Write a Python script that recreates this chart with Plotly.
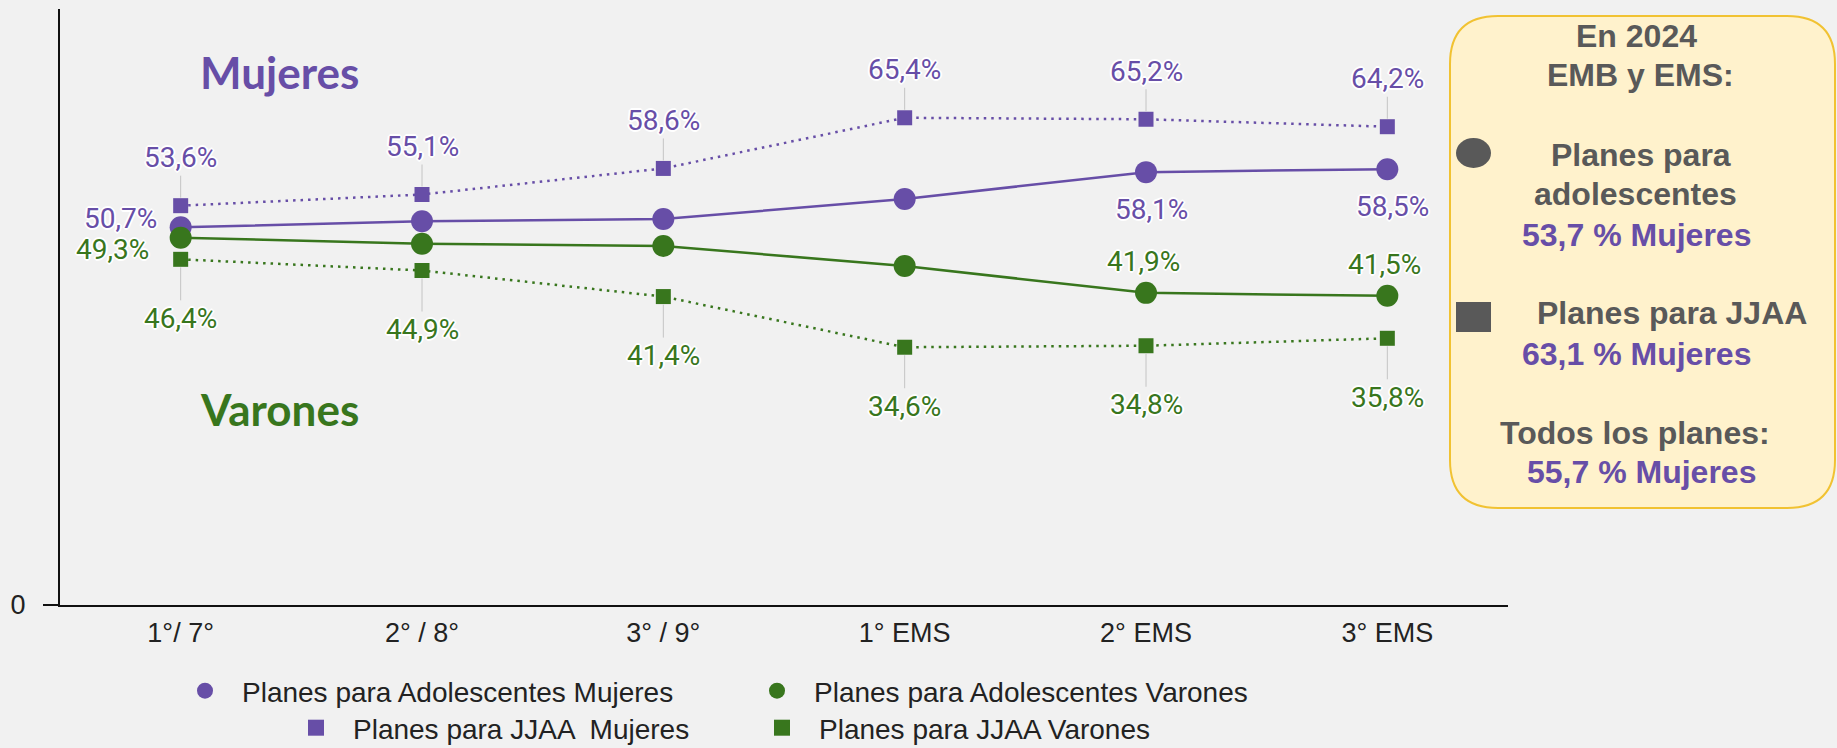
import plotly.graph_objects as go

# Data
categories = ["1°/ 7°", "2° / 8°", "3° / 9°", "1° EMS", "2° EMS", "3° EMS"]
adol_mujeres = [50.7, 51.5, 51.8, 54.5, 58.1, 58.5]
adol_varones = [49.3, 48.5, 48.2, 45.5, 41.9, 41.5]
jjaa_mujeres = [53.6, 55.1, 58.6, 65.4, 65.2, 64.2]
jjaa_varones = [46.4, 44.9, 41.4, 34.6, 34.8, 35.8]

# which circle points carry a label
adol_mujeres_labeled = [0, 4, 5]
adol_varones_labeled = [0, 4, 5]

box_lines = [
    ("En 2024", "grey"),
    ("EMB y EMS:", "grey"),
    ("Planes para", "grey"),
    ("adolescentes", "grey"),
    ("53,7 % Mujeres", "purple"),
    ("Planes para JJAA", "grey"),
    ("63,1 % Mujeres", "purple"),
    ("Todos los planes:", "grey"),
    ("55,7 % Mujeres", "purple"),
]

PURPLE = "#674ea7"
GREEN = "#38761d"
GREY = "#595959"
BG = "#f1f1f1"
HALO = "white 2px 0 0, white -2px 0 0, white 0 2px 0, white 0 -2px 0, white 1px 1px 1px, white -1px -1px 1px, white 1px -1px 1px, white -1px 1px 1px"

W, H = 1837, 748
L, R, T, B = 60, 329, 9, 143
PW, PH = W - L - R, H - T - B


def px(x):
    return (x - L) / PW


def py(y):
    return (H - B - y) / PH


def fmt(v):
    return f"{v:.1f}".replace(".", ",") + "%"


fig = go.Figure()

# JJAA dotted lines
fig.add_trace(go.Scatter(
    x=categories, y=jjaa_mujeres, mode="lines+markers",
    line=dict(color=PURPLE, width=2.5, dash="2.5px,5px"),
    marker=dict(symbol="square", size=15, color=PURPLE),
    showlegend=False, hoverinfo="skip",
))
fig.add_trace(go.Scatter(
    x=categories, y=jjaa_varones, mode="lines+markers",
    line=dict(color=GREEN, width=2.5, dash="2.5px,5px"),
    marker=dict(symbol="square", size=15, color=GREEN),
    showlegend=False, hoverinfo="skip",
))
# Adolescentes solid lines
fig.add_trace(go.Scatter(
    x=categories, y=adol_mujeres, mode="lines+markers",
    line=dict(color=PURPLE, width=2.5),
    marker=dict(symbol="circle", size=22, color=PURPLE),
    showlegend=False, hoverinfo="skip",
))
fig.add_trace(go.Scatter(
    x=categories, y=adol_varones, mode="lines+markers",
    line=dict(color=GREEN, width=2.5),
    marker=dict(symbol="circle", size=22, color=GREEN),
    showlegend=False, hoverinfo="skip",
))

# Legend entries (two centred rows -> two legends)
legend_items = [
    ("Planes para Adolescentes Mujeres", "circle", PURPLE, "legend"),
    ("Planes para Adolescentes Varones", "circle", GREEN, "legend"),
    ("Planes para JJAA  Mujeres", "square", PURPLE, "legend2"),
    ("Planes para JJAA Varones", "square", GREEN, "legend2"),
]
for name, sym, col, lg in legend_items:
    fig.add_trace(go.Scatter(
        x=[None], y=[None], mode="markers", name=name, legend=lg,
        marker=dict(symbol=sym, size=30, color=col),
    ))

annotations = []
label_font = dict(family="Roboto", size=28)

# square labels with leader lines
for i, v in enumerate(jjaa_mujeres):
    annotations.append(dict(
        x=categories[i], y=v, text=fmt(v), showarrow=True, arrowhead=0,
        arrowwidth=1, arrowcolor="#c4c4c4", ax=0, ay=-48, standoff=8,
        font=dict(**label_font, color=PURPLE, shadow=HALO),
    ))
for i, v in enumerate(jjaa_varones):
    annotations.append(dict(
        x=categories[i], y=v, text=fmt(v), showarrow=True, arrowhead=0,
        arrowwidth=1, arrowcolor="#c4c4c4", ax=0, ay=59, standoff=8,
        font=dict(**label_font, color=GREEN, shadow=HALO),
    ))

# circle labels
for i in adol_mujeres_labeled:
    v = adol_mujeres[i]
    if i == 0:
        pos = dict(xanchor="right", xshift=-22, yshift=9)
    else:
        pos = dict(xanchor="center", xshift=5, yshift=-37)
    annotations.append(dict(
        x=categories[i], y=v, text=fmt(v), showarrow=False,
        font=dict(**label_font, color=PURPLE, shadow=HALO), **pos,
    ))
for i in adol_varones_labeled:
    v = adol_varones[i]
    if i == 0:
        pos = dict(xanchor="right", xshift=-30, yshift=-12)
    else:
        pos = dict(xanchor="center", xshift=-3, yshift=31)
    annotations.append(dict(
        x=categories[i], y=v, text=fmt(v), showarrow=False,
        font=dict(**label_font, color=GREEN, shadow=HALO), **pos,
    ))

# big group titles
annotations.append(dict(
    xref="paper", yref="paper", x=px(279), y=py(72), text="<b>Mujeres</b>",
    xanchor="center", yanchor="middle",
    showarrow=False, font=dict(family="Lato", size=44, color=PURPLE),
))
annotations.append(dict(
    xref="paper", yref="paper", x=px(279), y=py(409), text="<b>Varones</b>",
    xanchor="center", yanchor="middle",
    showarrow=False, font=dict(family="Lato", size=44, color=GREEN),
))

# summary box text
box_x = [1636, 1640, 1641, 1635, 1636, 1672, 1636, 1635, 1641]
box_y = [36, 75, 155, 194, 235, 313, 354, 433, 472]
for (txt, kind), bx, by in zip(box_lines, box_x, box_y):
    annotations.append(dict(
        xref="paper", yref="paper", x=px(bx), y=py(by), text=f"<b>{txt}</b>",
        showarrow=False, xanchor="center", yanchor="middle",
        font=dict(family="Arial, Liberation Sans", size=32,
                  color=PURPLE if kind == "purple" else GREY),
    ))

# rounded summary box
x0, x1, y0, y1, r = 1450, 1835, 16, 508, 48
rx, ry = r / PW, r / PH
X0, X1, Y0, Y1 = px(x0), px(x1), py(y0), py(y1)
box_path = (
    f"M {X0 + rx},{Y0} L {X1 - rx},{Y0} Q {X1},{Y0} {X1},{Y0 - ry} "
    f"L {X1},{Y1 + ry} Q {X1},{Y1} {X1 - rx},{Y1} "
    f"L {X0 + rx},{Y1} Q {X0},{Y1} {X0},{Y1 + ry} "
    f"L {X0},{Y0 - ry} Q {X0},{Y0} {X0 + rx},{Y0} Z"
)
shapes = [
    dict(type="path", xref="paper", yref="paper", path=box_path,
         fillcolor="#fff2cc", line=dict(color="#f1c232", width=2), layer="below"),
    dict(type="circle", xref="paper", yref="paper",
         x0=px(1456), x1=px(1491), y0=py(138), y1=py(168),
         fillcolor=GREY, line=dict(width=0)),
    dict(type="rect", xref="paper", yref="paper",
         x0=px(1456), x1=px(1491), y0=py(302), y1=py(332),
         fillcolor=GREY, line=dict(width=0)),
]

fig.update_layout(
    width=W, height=H,
    margin=dict(l=L, r=R, t=T, b=B, autoexpand=False),
    paper_bgcolor=BG, plot_bgcolor=BG,
    font=dict(family="Arial, Liberation Sans", color="#222222"),
    xaxis=dict(
        type="category", range=[-0.5, 5.5], showgrid=False, zeroline=False,
        showline=True, linecolor="#111111", linewidth=2,
        tickfont=dict(size=27, color="#222222"), ticklabelstandoff=3,
    ),
    yaxis=dict(
        range=[0, 80], showgrid=False, zeroline=False,
        showline=True, linecolor="#111111", linewidth=2,
        tickvals=[0], ticks="outside", ticklen=15, tickwidth=2, tickcolor="#111111",
        tickfont=dict(size=27, color="#222222"), ticklabelstandoff=12,
    ),
    legend=dict(
        orientation="h", x=px(168), xanchor="left", y=py(691), yanchor="middle",
        font=dict(size=28, color="#222222"), itemwidth=64,
        entrywidth=493, entrywidthmode="pixels", bgcolor="rgba(0,0,0,0)",
    ),
    legend2=dict(
        orientation="h", x=px(279), xanchor="left", y=py(728), yanchor="middle",
        font=dict(size=28, color="#222222"), itemwidth=64,
        entrywidth=387, entrywidthmode="pixels", bgcolor="rgba(0,0,0,0)",
    ),
    annotations=annotations,
    shapes=shapes,
)

fig.write_html(
    "out.html",
    config={"displayModeBar": False},
    post_script="document.body.style.margin='0';",
)
